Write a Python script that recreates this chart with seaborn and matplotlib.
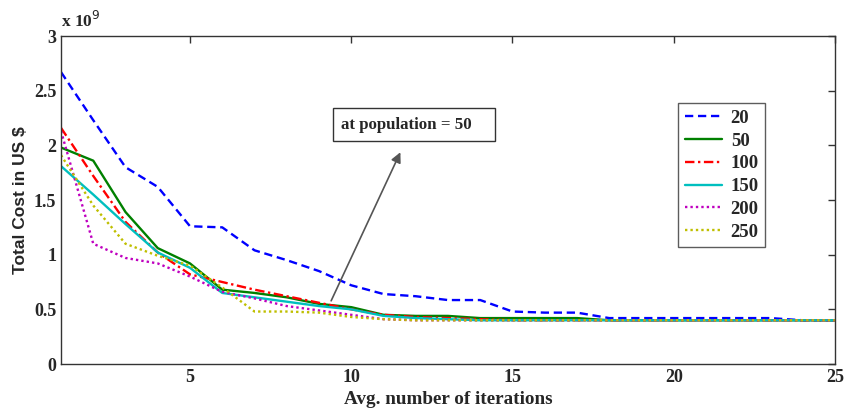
import matplotlib
matplotlib.use("Agg")
import matplotlib.pyplot as plt
from matplotlib.patches import Rectangle
import seaborn as sns
import pandas as pd

# ---- data (Total cost in units of 1e9 US $) ----
iterations = list(range(1, 26))
populations = ["20", "50", "100", "150", "200", "250"]
cost_20 = [2.67, 2.23, 1.80, 1.62, 1.26, 1.25, 1.04, 0.95, 0.85, 0.72, 0.64, 0.62, 0.585,
           0.585, 0.48, 0.47, 0.47, 0.42, 0.42, 0.42, 0.42, 0.42, 0.42, 0.40, 0.40]
cost_50 = [1.98, 1.86, 1.39, 1.06, 0.92, 0.68, 0.65, 0.61, 0.55, 0.52, 0.45, 0.44, 0.44,
           0.42, 0.42, 0.42, 0.42, 0.40, 0.40, 0.40, 0.40, 0.40, 0.40, 0.40, 0.40]
cost_100 = [2.16, 1.72, 1.30, 1.02, 0.82, 0.75, 0.68, 0.62, 0.56, 0.50, 0.45, 0.43, 0.42,
            0.41, 0.40, 0.40, 0.40, 0.40, 0.40, 0.40, 0.40, 0.40, 0.40, 0.40, 0.40]
cost_150 = [1.81, 1.55, 1.28, 1.02, 0.88, 0.65, 0.61, 0.57, 0.53, 0.50, 0.44, 0.42, 0.41,
            0.40, 0.40, 0.40, 0.40, 0.40, 0.40, 0.40, 0.40, 0.40, 0.40, 0.40, 0.40]
cost_200 = [2.13, 1.10, 0.97, 0.92, 0.80, 0.66, 0.60, 0.53, 0.49, 0.45, 0.41, 0.40, 0.40,
            0.40, 0.40, 0.40, 0.40, 0.40, 0.40, 0.40, 0.40, 0.40, 0.40, 0.40, 0.40]
cost_250 = [1.91, 1.45, 1.10, 0.99, 0.90, 0.70, 0.48, 0.48, 0.47, 0.43, 0.41, 0.40, 0.40,
            0.40, 0.40, 0.40, 0.40, 0.40, 0.40, 0.40, 0.40, 0.40, 0.40, 0.40, 0.40]
series = [cost_20, cost_50, cost_100, cost_150, cost_200, cost_250]
x_ticks = [5, 10, 15, 20, 25]
y_ticks = [0, 0.5, 1, 1.5, 2, 2.5, 3]
y_tick_labels = ["0", "0.5", "1", "1.5", "2", "2.5", "3"]

rows = []
for p, vals in zip(populations, series):
    for it, v in zip(iterations, vals):
        rows.append({"iter": it, "cost": v, "pop": p})
df = pd.DataFrame(rows)

sns.set_style("white")
plt.rcParams["font.family"] = ["Liberation Serif", "DejaVu Serif"]

palette = {"20": "#0000ff", "50": "#008000", "100": "#ff0000",
           "150": "#00bfbf", "200": "#bf00bf", "250": "#bfbf00"}
dashes = {"20": (3.5, 2), "50": "", "100": (4, 1.5, 1, 1.5),
          "150": "", "200": (1, 1.3), "250": (1, 1.3)}

fig = plt.figure(figsize=(8.44, 4.12), dpi=100)
ax = fig.add_axes([0.0723, 0.1165, 0.917, 0.796])
sns.lineplot(data=df, x="iter", y="cost", hue="pop", style="pop",
             hue_order=populations, style_order=populations,
             palette=palette, dashes=dashes, linewidth=1.7, ax=ax,
             legend=True)

ax.set_xlim(1, 25)
ax.set_ylim(0, 3)
ax.set_xticks(x_ticks)
ax.set_yticks(y_ticks)
ax.set_yticklabels(y_tick_labels)
ax.tick_params(direction="in", length=5, top=True, right=True,
               labelsize=13, width=1, color="#333333")
for lab in ax.get_xticklabels() + ax.get_yticklabels():
    lab.set_fontweight("bold")
for s in ax.spines.values():
    s.set_visible(True)
    s.set_color("#333333")
    s.set_linewidth(1.0)

ax.set_xlabel("Avg. number of iterations", fontsize=13.8, fontweight="bold", labelpad=4)
ax.set_ylabel("Total Cost in US $", fontsize=12.5, fontweight="bold",
              family=["Liberation Sans", "DejaVu Sans"], labelpad=4)

ax.text(0.0, 1.015, "x 10$^{9}$", transform=ax.transAxes, fontsize=12.5,
        fontweight="bold", ha="left", va="bottom")

leg = ax.legend(loc="upper left", bbox_to_anchor=(0.7975, 0.795),
                frameon=True, fancybox=False, edgecolor="#333333",
                prop={"family": "Liberation Serif", "weight": "bold", "size": 13.5},
                handlelength=2.0, labelspacing=0.3, borderpad=0.35,
                handletextpad=0.45, borderaxespad=0)
leg.get_frame().set_linewidth(1.0)

ax.annotate("", xy=(11.56, 1.96), xytext=(9.34, 0.555),
            arrowprops=dict(arrowstyle="-|>", color="#555555", lw=1.2,
                            mutation_scale=15))
ax.add_patch(Rectangle((9.42, 2.04), 5.05, 0.30, fill=False,
                       edgecolor="#333333", lw=1.0, zorder=5))
ax.text(9.67, 2.19, "at population = 50", fontsize=12.2, fontweight="bold",
        ha="left", va="center", zorder=6)

fig.savefig("out.png", dpi=100)
